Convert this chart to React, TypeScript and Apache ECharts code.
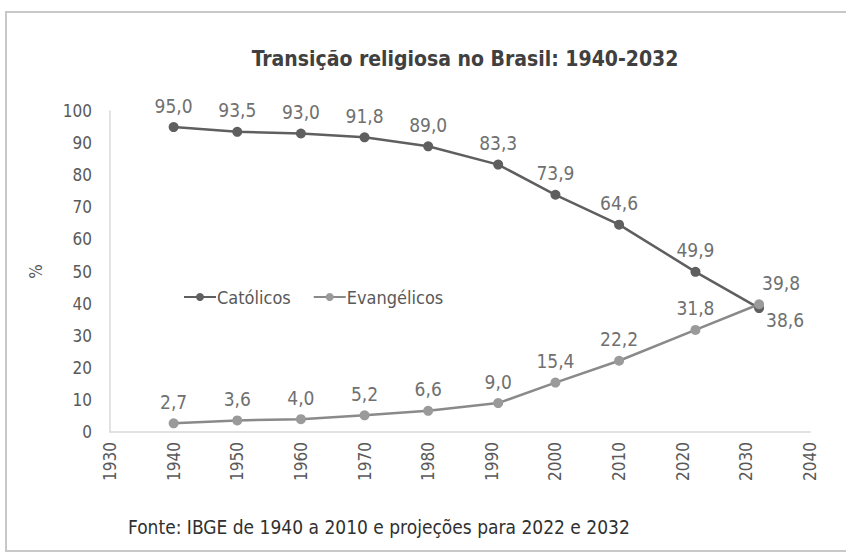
import React, { useEffect, useRef } from "react";
import * as echarts from "echarts";

const years = [1940, 1950, 1960, 1970, 1980, 1991, 2000, 2010, 2022, 2032];
const catolicos = [95.0, 93.5, 93.0, 91.8, 89.0, 83.3, 73.9, 64.6, 49.9, 38.6];
const evangelicos = [2.7, 3.6, 4.0, 5.2, 6.6, 9.0, 15.4, 22.2, 31.8, 39.8];
const titleText = "Transição religiosa no Brasil: 1940-2032";
const sourceText = "Fonte: IBGE de 1940 a 2010 e projeções para 2022 e 2032";

const FONT = "'Liberation Sans Narrow', 'DejaVu Sans Condensed', 'Noto Sans', sans-serif";
const fmt = (v: number) => v.toFixed(1).replace(".", ",");

export default function App() {
  const ref = useRef<HTMLDivElement>(null);
  useEffect(() => {
    if (!ref.current) return;
    const chart = echarts.init(ref.current, null, { renderer: "svg" });
    const cat = years.map((y, i) => [y, catolicos[i]]);
    const ev = years.map((y, i) => [y, evangelicos[i]]);
    chart.setOption({
      animation: false,
      backgroundColor: "#ffffff",
      textStyle: { fontFamily: FONT },
      title: {
        text: titleText,
        left: 460,
        top: 43,
        textAlign: "center",
        textStyle: { fontFamily: FONT, fontSize: 21, fontWeight: "bold", color: "#404040" },
      },
      graphic: [
        {
          type: "rect",
          shape: { x: 6, y: 12, width: 860, height: 539 },
          style: { fill: "none", stroke: "#c8c8c8", lineWidth: 2 },
          silent: true,
        },
        {
          type: "text",
          left: 128,
          top: 517,
          style: { text: sourceText, fontFamily: FONT, fontSize: 19, fill: "#303030" },
        },
      ],
      legend: {
        left: 178,
        top: 283,
        itemWidth: 32,
        itemHeight: 10,
        itemGap: 22,
        textStyle: { fontFamily: FONT, fontSize: 18, color: "#595959", padding: [0, 0, 0, -4] },
        data: ["Católicos", "Evangélicos"],
      },
      grid: { left: 110, right: 36, top: 111, bottom: 124 },
      xAxis: {
        type: "value",
        min: 1930,
        max: 2040,
        interval: 10,
        axisLine: { show: true, lineStyle: { color: "#d9d9d9", width: 1.5 } },
        axisTick: { show: false },
        splitLine: { show: false },
        axisLabel: {
          rotate: 90,
          margin: 10,
          fontFamily: FONT,
          fontSize: 17,
          color: "#595959",
          formatter: (v: number) => String(v),
        },
      },
      yAxis: {
        type: "value",
        min: 0,
        max: 100,
        interval: 10,
        name: "%",
        nameLocation: "middle",
        nameGap: 66,
        nameRotate: 90,
        nameTextStyle: { fontFamily: FONT, fontSize: 17, color: "#595959" },
        axisLine: { show: true, lineStyle: { color: "#d9d9d9", width: 1.5 } },
        axisTick: { show: false },
        splitLine: { show: false },
        axisLabel: { margin: 18, fontFamily: FONT, fontSize: 17, color: "#595959" },
      },
      series: [
        {
          name: "Católicos",
          type: "line",
          data: cat,
          symbol: "circle",
          symbolSize: 10,
          color: "#5f5f5f",
          lineStyle: { width: 2.5, color: "#5f5f5f" },
          itemStyle: { color: "#5f5f5f" },
          label: {
            show: true,
            formatter: (p: any) => fmt(p.value[1]),
            fontFamily: FONT,
            fontSize: 19,
            color: "#707070",
            position: "top",
            distance: 7,
            offset: [6, 0],
          },
          labelLayout: (p: any) =>
            p.dataIndex === years.length - 1 ? { dx: 26, dy: 33 } : {},
        },
        {
          name: "Evangélicos",
          type: "line",
          data: ev,
          symbol: "circle",
          symbolSize: 10,
          color: "#9a9a9a",
          lineStyle: { width: 2.5, color: "#8a8a8a" },
          itemStyle: { color: "#9a9a9a" },
          label: {
            show: true,
            formatter: (p: any) => fmt(p.value[1]),
            fontFamily: FONT,
            fontSize: 19,
            color: "#707070",
            position: "top",
            distance: 7,
            offset: [4, 0],
          },
          labelLayout: (p: any) =>
            p.dataIndex === years.length - 1 ? { dx: 22, dy: 0 } : {},
        },
      ],
    });
    return () => chart.dispose();
  }, []);
  return <div ref={ref} style={{ width: 846, height: 556, position: "absolute", left: 0, top: 0 }} />;
}
